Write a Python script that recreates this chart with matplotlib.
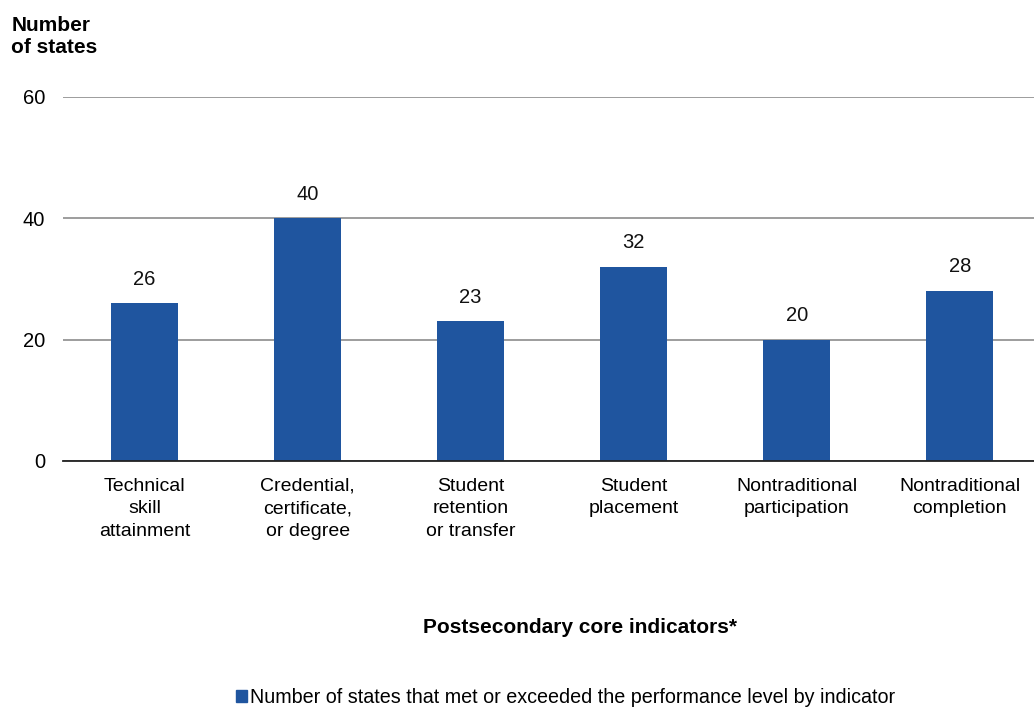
import matplotlib
matplotlib.use("Agg")
import matplotlib.pyplot as plt
from matplotlib.patches import Patch

categories = ["Technical\nskill\nattainment", "Credential,\ncertificate,\nor degree",
              "Student\nretention\nor transfer", "Student\nplacement",
              "Nontraditional\nparticipation", "Nontraditional\ncompletion"]
values = [26, 40, 23, 32, 20, 28]
yticks = [0, 20, 40, 60]

plt.rcParams["font.family"] = ["Liberation Sans", "DejaVu Sans"]

fig = plt.figure(figsize=(10.34, 7.07), dpi=100)
ax = fig.add_axes([0.061, 0.348, 0.946, 0.515])

bar_color = "#1F559F"
x = list(range(len(values)))
ax.bar(x, values, width=0.41, color=bar_color, zorder=3)
for xi, v in zip(x, values):
    ax.text(xi, v + 2.4, str(v), ha="center", va="bottom", fontsize=14.5, color="#111111")

ax.set_xlim(-0.5, len(values) - 0.5)
ax.set_ylim(0, 60)
ax.set_yticks(yticks)
ax.set_yticklabels([str(t) for t in yticks], fontsize=14.5)
ax.set_xticks(x)
ax.set_xticklabels(categories, fontsize=14, linespacing=1.42, va="top")
ax.tick_params(axis="y", length=0, pad=13)
ax.tick_params(axis="x", length=0, pad=12)

ax.grid(axis="y", color="#8C8C8C", linewidth=1.2, zorder=0)
for side in ("top", "right", "left"):
    ax.spines[side].set_visible(False)
ax.spines["bottom"].set_color("#222222")
ax.spines["bottom"].set_linewidth(1.3)
ax.spines["bottom"].set_zorder(4)

fig.text(0.011, 0.978, "Number\nof states", fontsize=15, fontweight="bold",
         ha="left", va="top", linespacing=1.22)
fig.text(0.561, 0.113, "Postsecondary core indicators*", fontsize=15, fontweight="bold",
         ha="center", va="center")

# legend entry below the chart
fig.legend(handles=[Patch(color=bar_color)],
           labels=["Number of states that met or exceeded the performance level by indicator"],
           loc="center", bbox_to_anchor=(0.547, 0.014), frameon=False, fontsize=14.2,
           handlelength=0.55, handleheight=0.55, handletextpad=0.15)

fig.savefig("out.png", dpi=100)
